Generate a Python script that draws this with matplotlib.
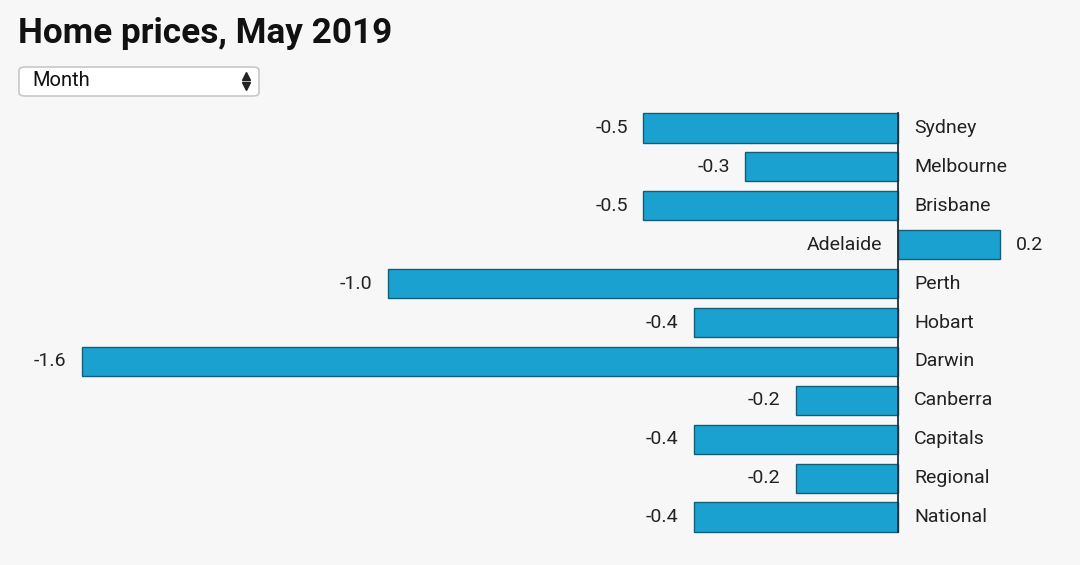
import matplotlib.pyplot as plt
from matplotlib.patches import FancyBboxPatch
from matplotlib.lines import Line2D

# data
cities = ["Sydney", "Melbourne", "Brisbane", "Adelaide", "Perth", "Hobart",
          "Darwin", "Canberra", "Capitals", "Regional", "National"]
change = [-0.5, -0.3, -0.5, 0.2, -1.0, -0.4, -1.6, -0.2, -0.4, -0.2, -0.4]

bg = "#f7f7f8"
bar_col = "#1ba1cf"
edge_col = "#145f78"

plt.rcParams['font.family'] = ['Roboto', 'DejaVu Sans']

fig = plt.figure(figsize=(10.8, 5.65), dpi=100)
fig.patch.set_facecolor(bg)
ax = fig.add_axes([0, 0, 1, 1])
ax.set_facecolor(bg)

ypos = list(range(len(cities)))
ax.barh(ypos, change, height=0.75, color=bar_col, edgecolor=edge_col, linewidth=1.0)
ax.plot([0, 0], [-0.375, len(cities) - 0.625], color="#1c2f38", lw=1.3)

ax.set_xlim(-898 / 510, (1080 - 898) / 510)
ax.set_ylim((565 - 128) / 38.9, -128 / 38.9)
ax.axis('off')

fs = 14
for y, name, v in zip(ypos, cities, change):
    if v < 0:
        ax.annotate(f"{v:.1f}", (v, y), xytext=(-11, 0), textcoords="offset points",
                    ha="right", va="center", fontsize=fs, color="#222222")
        ax.annotate(name, (0, y), xytext=(11.5, 0), textcoords="offset points",
                    ha="left", va="center", fontsize=fs, color="#222222")
    else:
        ax.annotate(f"{v:.1f}", (v, y), xytext=(11.5, 0), textcoords="offset points",
                    ha="left", va="center", fontsize=fs, color="#222222")
        ax.annotate(name, (0, y), xytext=(-11.5, 0), textcoords="offset points",
                    ha="right", va="center", fontsize=fs, color="#222222")

# title
fig.text(18 / 1080, 1 - 43 / 565, "Home prices, May 2019", fontsize=25.3,
         fontweight="bold", color="#111111", va="baseline")

# dropdown
box = FancyBboxPatch((19 / 1080, 1 - 96 / 565), 240 / 1080, 29 / 565,
                     boxstyle="round,pad=0,rounding_size=0.006",
                     transform=fig.transFigure, facecolor="white",
                     edgecolor="#c8c8c8", linewidth=1.2)
fig.add_artist(box)
fig.text(32 / 1080, 1 - 81 / 565, "Month", fontsize=14.5, color="#111111", va="center")
fig.add_artist(Line2D([246 / 1080], [1 - 76 / 565], marker="^", markersize=6,
                      color="#222222", transform=fig.transFigure))
fig.add_artist(Line2D([246 / 1080], [1 - 86 / 565], marker="v", markersize=6,
                      color="#222222", transform=fig.transFigure))

fig.savefig("out.png", dpi=100, facecolor=bg)
